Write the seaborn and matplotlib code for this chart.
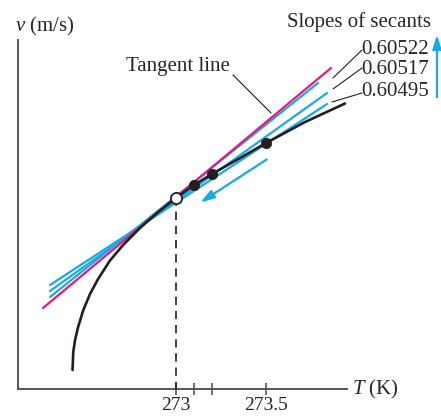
import matplotlib
matplotlib.use("Agg")
import matplotlib.pyplot as plt
from matplotlib.lines import Line2D
import seaborn as sns
import pandas as pd

# --- data (v in arbitrary units, axis has no v scale) ---
curve_T = [272.425, 272.429, 272.439, 272.456, 272.483, 272.522, 272.567, 272.633,
           272.706, 272.800, 272.894, 273.0, 273.1, 273.2, 273.356, 273.5, 273.717, 273.939]
curve_v = [20, 38, 50, 63, 79, 96, 111, 129.5, 145, 162, 177, 192, 205, 216, 232, 247, 268, 286.5]

open_T = 273.0
open_v = 192

point_T = [273.1, 273.2, 273.5]
point_v = [205, 216, 247]

secant_labels = ["0.60522", "0.60517", "0.60495"]
secant_T_start = [272.3, 272.3, 272.3]
secant_v_start = [93, 99, 105]
secant_T_end = [273.789, 273.839, 273.839]
secant_v_end = [307, 297, 286]

tangent_T = [272.261, 273.861]
tangent_v = [82, 322]

tick_T = [273, 273.1, 273.2, 273.5]
tick_labels = ["273", "", "", "273.5"]

CYAN = "#1aa9e3"
MAGENTA = "#e8187c"
INK = "#231f20"
AXIS = "#555555"

sns.set_theme(style="white")
plt.rcParams["font.family"] = ["Liberation Serif", "DejaVu Serif"]
plt.rcParams["mathtext.fontset"] = "custom"
plt.rcParams["mathtext.rm"] = "Liberation Serif"
plt.rcParams["mathtext.it"] = "Liberation Serif:italic"

W, H = 441, 416
fig = plt.figure(figsize=(W / 100, H / 100), dpi=100)
ax = fig.add_axes([18 / W, 1 - 389 / H, (347 - 18) / W, (389 - 40) / H])

# secant lines
rows = []
for lab, t0, v0, t1, v1 in zip(secant_labels, secant_T_start, secant_v_start,
                               secant_T_end, secant_v_end):
    rows.append({"T": t0, "v": v0, "line": lab})
    rows.append({"T": t1, "v": v1, "line": lab})
secants = pd.DataFrame(rows)
sns.lineplot(data=secants, x="T", y="v", units="line", estimator=None, sort=False,
             color=CYAN, lw=1.6, ax=ax, legend=False)

# tangent line
sns.lineplot(x=tangent_T, y=tangent_v, color=MAGENTA, lw=1.6, ax=ax, sort=False)

# the curve
sns.lineplot(x=curve_T, y=curve_v, color=INK, lw=1.9, ax=ax, sort=False)

# dashed drop line
ax.vlines(open_T, 0, open_v, colors=INK, linestyles=(0, (5, 3.5)), lw=1.2, zorder=3)

sns.scatterplot(x=point_T, y=point_v, color=INK, s=55, ax=ax, zorder=5, edgecolor=INK)
sns.scatterplot(x=[open_T], y=[open_v], color="white", s=65, ax=ax, zorder=6,
                edgecolor=INK, linewidth=1.3)

ax.set_xlim(272.122, 273.95)
ax.set_ylim(1, 350)
ax.set_xticks(tick_T)
ax.set_xticklabels(tick_labels, fontsize=14)
ax.set_yticks([])
ax.set_xlabel("")
ax.set_ylabel("")
ax.tick_params(axis="x", direction="inout", length=9, width=1.2, color=AXIS, pad=1,
               bottom=True, labelcolor="#222222")
sns.despine(ax=ax)
for s in ["left", "bottom"]:
    ax.spines[s].set_color(AXIS)
    ax.spines[s].set_linewidth(1.4)

def fp(x, y):
    return (x / W, 1 - y / H)

fs = 15
fig.text(*fp(15, 26), r"$v$ (m/s)", fontsize=fs, ha="left", va="center")
fig.text(*fp(352, 389), r"$T$ (K)", fontsize=fs, ha="left", va="center")
fig.text(*fp(126, 67), "Tangent line", fontsize=fs, ha="left", va="center")
fig.text(*fp(431, 22), "Slopes of secants", fontsize=fs, ha="right", va="center")
for lab, y in zip(secant_labels, [49, 70, 92]):
    fig.text(*fp(361, y), lab, fontsize=fs, ha="left", va="center")

# leader lines
leaders = [((233, 75), (271, 113)), ((333, 78), (362, 50)),
           ((333, 89), (362, 68)), ((332, 102), (362, 93))]
for (x1, y1), (x2, y2) in leaders:
    a, b = fp(x1, y1)
    c, d = fp(x2, y2)
    fig.add_artist(Line2D([a, c], [b, d], color=INK, lw=0.8, transform=fig.transFigure))

# cyan arrows
arrow = dict(arrowstyle="-|>,head_length=0.7,head_width=0.22", color=CYAN, lw=1.6)
ax.annotate("", xy=fp(198, 204), xytext=fp(269, 158), xycoords="figure fraction",
            textcoords="figure fraction", arrowprops=arrow, annotation_clip=False)
ax.annotate("", xy=fp(437, 32), xytext=fp(437, 100), xycoords="figure fraction",
            textcoords="figure fraction", arrowprops=arrow, annotation_clip=False)

fig.savefig("out.png", dpi=100)
